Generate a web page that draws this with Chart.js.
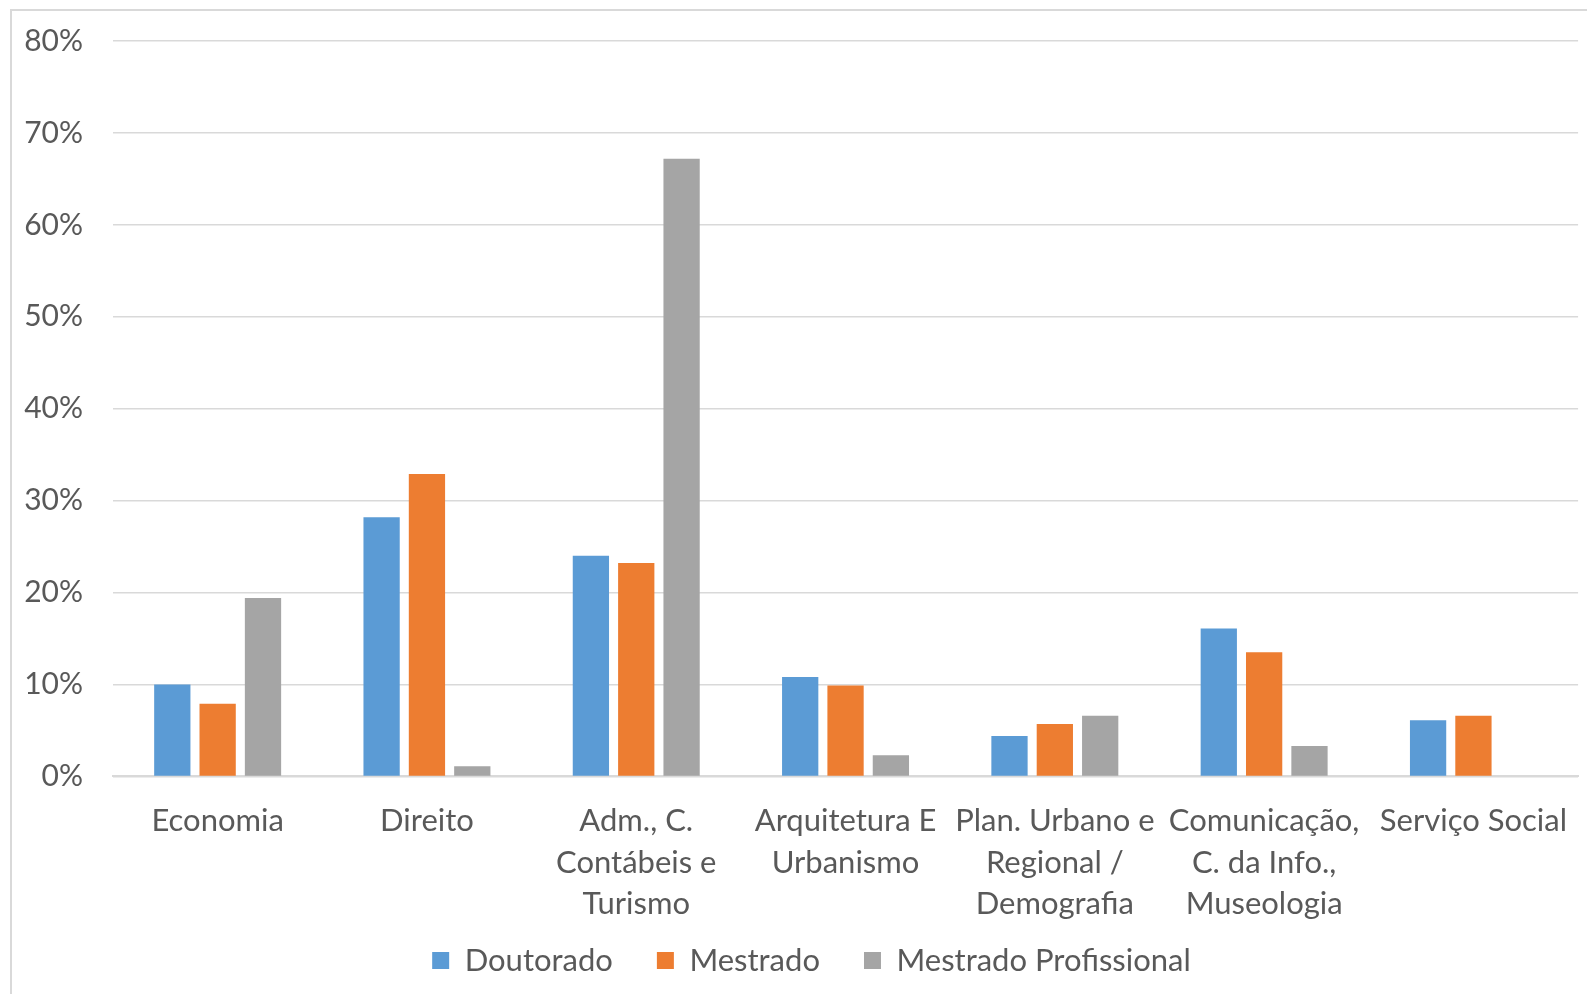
<!DOCTYPE html>
<html>
<head>
<meta charset="utf-8">
<script src="https://cdn.jsdelivr.net/npm/chart.js@4/dist/chart.umd.min.js"></script>
<style>
  body { margin: 0; background: #fff; overflow: hidden; }
  #wrap { position: absolute; left: 10px; top: 9px; width: 1600px; height: 1000px;
          border-left: 2px solid #d9d9d9; border-top: 2px solid #d9d9d9; }
  #chart { display: block; position: absolute; left: 0; top: -18px; }
</style>
</head>
<body>
<div id="wrap"><canvas id="chart" width="1571" height="1001"></canvas></div>
<script>
// Categories (multi-line labels as in the original)
const categories = [
    ['Economia'],
    ['Direito'],
    ['Adm., C.', 'Contábeis e', 'Turismo'],
    ['Arquitetura E', 'Urbanismo'],
    ['Plan. Urbano e', 'Regional /', 'Demografia'],
    ['Comunicação,', 'C. da Info.,', 'Museologia'],
    ['Serviço Social']
];

// Percentages per series
const doutorado = [10.0, 28.2, 24.0, 10.8, 4.4, 16.1, 6.1];
const mestrado = [7.9, 32.9, 23.2, 9.9, 5.7, 13.5, 6.6];
const mestradoProf = [19.4, 1.1, 67.2, 2.3, 6.6, 3.3, 0];

const seriesNames = ['Doutorado', 'Mestrado', 'Mestrado Profissional'];
const seriesColors = ['#5B9BD5', '#ED7D31', '#A5A5A5'];

const FONT = 'Lato, "Open Sans", sans-serif';
const TEXT = '#595959';
// legend padding is wide (for item spacing) but the row sits close to the axis labels
const LEGEND_OVERLAP = 40;
const LEGEND_SHIFT_X = 14;

const datasets = [doutorado, mestrado, mestradoProf].map((values, i) => ({
    label: seriesNames[i],
    data: values,
    backgroundColor: seriesColors[i],
    borderWidth: 0,
    categoryPercentage: 0.65,
    barPercentage: 0.8
}));

const ctx = document.getElementById('chart').getContext('2d');
const chart = new Chart(ctx, {
    type: 'bar',
    data: { labels: categories, datasets: datasets },
    options: {
        responsive: false,
        animation: false,
        layout: { padding: { top: 0, right: 0, left: 0, bottom: 8 } },
        plugins: {
            tooltip: { enabled: false },
            legend: {
                position: 'bottom',
                labels: {
                    color: TEXT,
                    font: { family: FONT, size: 31 },
                    boxWidth: 17,
                    boxHeight: 17,
                    padding: 44
                }
            }
        },
        scales: {
            x: {
                grid: { display: false },
                border: { color: '#d9d9d9', width: 2 },
                ticks: {
                    color: TEXT,
                    font: { family: FONT, size: 31, lineHeight: 1.34 },
                    maxRotation: 0,
                    autoSkip: false,
                    padding: 16
                }
            },
            y: {
                min: 0,
                max: 80,
                grid: { color: '#d9d9d9', lineWidth: 1.5, drawTicks: false },
                border: { display: false },
                afterFit: function(scale) { scale.width = 101; },
                ticks: {
                    stepSize: 10,
                    color: TEXT,
                    font: { family: FONT, size: 30 },
                    padding: 30,
                    callback: v => v + '%'
                }
            }
        }
    }
});

// Shrink the legend box and draw its row higher up (and a bit to the right)
const legend = chart.legend;
const fitLegend = legend.fit;
legend.fit = function() {
    fitLegend.call(this);
    this.height -= LEGEND_OVERLAP;
};
const drawLegend = legend.draw;
legend.draw = function(area) {
    this.top -= LEGEND_OVERLAP;
    this.left += LEGEND_SHIFT_X;
    this.right += LEGEND_SHIFT_X;
    drawLegend.call(this, area);
    this.top += LEGEND_OVERLAP;
    this.left -= LEGEND_SHIFT_X;
    this.right -= LEGEND_SHIFT_X;
};
chart.update();
</script>
</body>
</html>
